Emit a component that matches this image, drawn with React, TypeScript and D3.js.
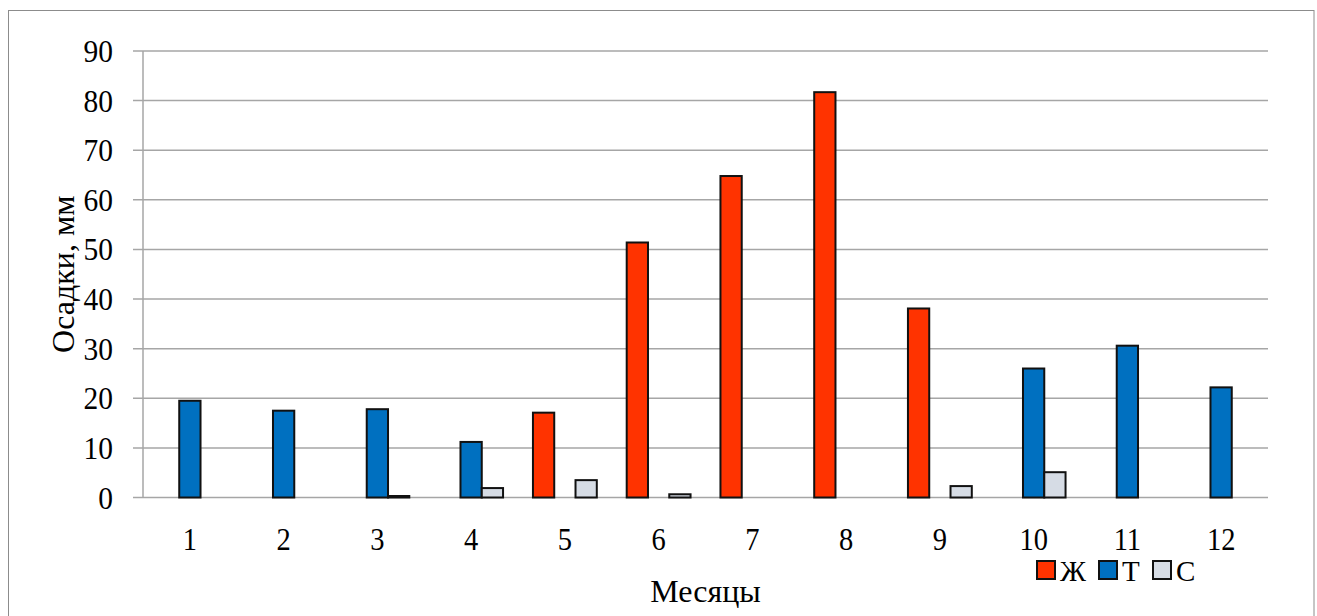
import React from "react";
import * as d3 from "d3";

// Monthly precipitation by type (Ж – liquid, Т – solid, С – mixed), mm
const months = ["1", "2", "3", "4", "5", "6", "7", "8", "9", "10", "11", "12"];
const seriesKeys = ["Ж", "Т", "С"];
const liquid = [0, 0, 0, 0, 17.1, 51.4, 64.8, 81.7, 38.1, 0, 0, 0];
const solid = [19.5, 17.5, 17.8, 11.2, 0, 0, 0, 0, 0, 26.0, 30.6, 22.2];
const mixed = [0, 0, 0.3, 1.9, 3.5, 0.65, 0, 0, 2.3, 5.1, 0, 0];
const yTicks = [0, 10, 20, 30, 40, 50, 60, 70, 80, 90];
const colors = ["#FF3300", "#0070C0", "#D6DCE5"];

const W = 1317;
const H = 616;
const left = 143;
const right = 1268;
const top = 51;
const bottom = 497.5;
const FONT = "'Liberation Serif', 'Times New Roman', serif";

export default function App() {
  const values = [liquid, solid, mixed];
  const x = d3.scaleBand<string>().domain(months).range([left, right]).paddingInner(0).paddingOuter(0);
  const y = d3.scaleLinear().domain([0, 90]).range([bottom, top]);
  const barW = x.bandwidth() * 0.227;
  const xs = d3.scaleBand<string>().domain(seriesKeys).range([-1.5 * barW, 1.5 * barW]);

  return (
    <div style={{ position: "absolute", left: 0, top: 0 }}>
      <svg width={W} height={H} style={{ display: "block", background: "#fff" }}>
        <rect x={8.5} y={10.5} width={1305.5} height={620} fill="#fff" stroke="#8c8c8c" strokeWidth={1} />
        {/* horizontal gridlines + y ticks */}
        {yTicks.map((t) => (
          <g key={t}>
            <line x1={133} x2={right} y1={y(t)} y2={y(t)} stroke="#a6a6a6" strokeWidth={1.5} />
            <text
              transform={`translate(113, ${y(t)}) scale(0.95, 1.05)`}
              textAnchor="end"
              dominantBaseline="central"
              fontFamily={FONT}
              fontSize={31}
              fill="#000"
            >
              {t}
            </text>
          </g>
        ))}
        <line x1={left} x2={left} y1={top} y2={bottom} stroke="#a6a6a6" strokeWidth={1.5} />
        {/* bars */}
        {months.map((m, i) => (
          <g key={m}>
            {seriesKeys.map((k, s) => {
              const v = values[s][i];
              if (!v) return null;
              const cx = (x(m) as number) + x.bandwidth() / 2;
              const bx = cx + (xs(k) as number);
              return (
                <rect
                  key={k}
                  x={bx}
                  y={y(v)}
                  width={xs.bandwidth()}
                  height={y(0) - y(v)}
                  fill={colors[s]}
                  stroke="#111"
                  strokeWidth={2}
                />
              );
            })}
            <text
              transform={`translate(${(x(m) as number) + x.bandwidth() / 2}, 550) scale(0.95, 1.05)`}
              textAnchor="middle"
              fontFamily={FONT}
              fontSize={30}
              fill="#000"
            >
              {m}
            </text>
          </g>
        ))}
        {/* axis titles */}
        <text x={(left + right) / 2} y={602} textAnchor="middle" fontFamily={FONT} fontSize={32} fill="#000">
          Месяцы
        </text>
        <text
          transform={`translate(74, ${(top + bottom) / 2}) rotate(-90)`}
          textAnchor="middle"
          fontFamily={FONT}
          fontSize={32}
          fill="#000"
        >
          Осадки, мм
        </text>
        {/* legend */}
        {seriesKeys.map((k, s) => {
          const lx = [1037, 1099, 1153][s];
          return (
            <g key={k}>
              <rect x={lx} y={561} width={18} height={18} fill={colors[s]} stroke="#111" strokeWidth={2} />
              <text x={lx + 23} y={581} fontFamily={FONT} fontSize={29} fill="#000">
                {k}
              </text>
            </g>
          );
        })}
      </svg>
    </div>
  );
}
